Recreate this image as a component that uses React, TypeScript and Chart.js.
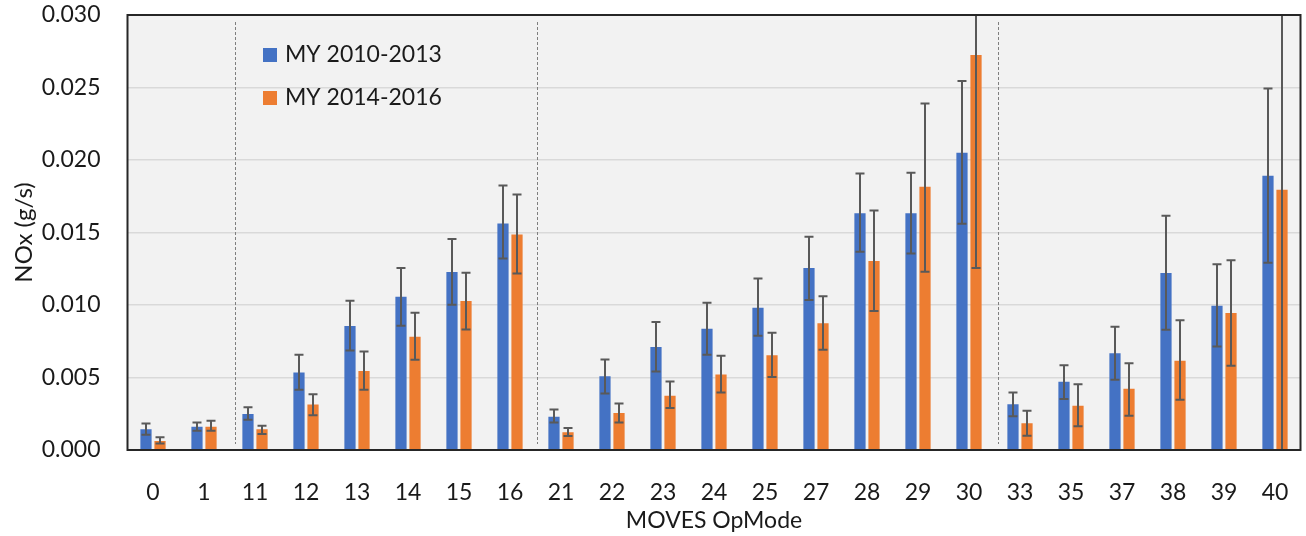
import React, { useEffect, useRef } from 'react';
import { Chart, registerables } from 'chart.js';

Chart.register(...registerables);

const categories = ['0', '1', '11', '12', '13', '14', '15', '16', '21', '22', '23', '24', '25', '27', '28', '29', '30', '33', '35', '37', '38', '39', '40'];

const seriesLabels = ['MY 2010-2013', 'MY 2014-2016'];

// values in mg/s (converted to g/s below)
const blueValues = [1.43, 1.61, 2.49, 5.34, 8.55, 10.57, 12.28, 15.62, 2.30, 5.09, 7.10, 8.36, 9.81, 12.56, 16.33, 16.33, 20.5, 3.16, 4.70, 6.68, 12.21, 9.95, 18.91];
const blueLow = [1.06, 1.33, 2.09, 4.15, 6.86, 8.57, 10.02, 13.2, 1.89, 3.89, 5.41, 6.57, 7.88, 10.34, 13.68, 13.55, 15.6, 2.33, 3.52, 4.84, 8.29, 7.14, 12.92];
const blueHigh = [1.82, 1.89, 2.95, 6.57, 10.30, 12.56, 14.56, 18.24, 2.79, 6.24, 8.83, 10.16, 11.82, 14.70, 19.07, 19.12, 25.45, 3.96, 5.85, 8.50, 16.15, 12.81, 24.93];

const orangeValues = [0.62, 1.61, 1.43, 3.13, 5.44, 7.81, 10.28, 14.86, 1.22, 2.56, 3.75, 5.20, 6.54, 8.75, 13.04, 18.15, 27.25, 1.84, 3.06, 4.22, 6.15, 9.45, 17.95];
const orangeLow = [0.44, 1.33, 1.11, 2.40, 4.15, 6.22, 8.31, 12.18, 0.97, 1.89, 2.90, 3.96, 5.04, 6.91, 9.58, 12.30, 12.56, 0.99, 1.64, 2.37, 3.46, 5.81, -4.0];
const orangeHigh = [0.88, 2.02, 1.68, 3.85, 6.79, 9.47, 12.23, 17.62, 1.52, 3.20, 4.72, 6.50, 8.09, 10.6, 16.52, 23.9, 41.9, 2.70, 4.54, 5.99, 8.94, 13.08, 40.0];

const yTicks = [0, 0.005, 0.01, 0.015, 0.02, 0.025, 0.03];

// separators between OpMode groups (category index positions)
const separators = [1.6, 7.52, 16.57];

const BLUE = '#4472C4';
const ORANGE = '#ED7D31';
const TEXT = '#1A1A1A';
const FONT = 'Lato';

const toG = (arr: number[]) => arr.map((v) => v / 1000);

const errorLows = [toG(blueLow), toG(orangeLow)];
const errorHighs = [toG(blueHigh), toG(orangeHigh)];

const decorPlugin = {
  id: 'decor',
  beforeDraw(chart: any) {
    const { ctx, chartArea: a } = chart;
    ctx.save();
    ctx.fillStyle = '#F2F2F2';
    ctx.fillRect(a.left, a.top, a.right - a.left, a.bottom - a.top);
    ctx.restore();
  },
  afterDatasetsDraw(chart: any) {
    const { ctx, chartArea: a, scales } = chart;
    const xs = scales.x;
    const ys = scales.y;
    ctx.save();
    // dashed separators
    ctx.strokeStyle = '#7F7F7F';
    ctx.lineWidth = 1;
    ctx.setLineDash([3, 2]);
    separators.forEach((s) => {
      const x = Math.round(xs.getPixelForValue(s)) + 0.5;
      ctx.beginPath();
      ctx.moveTo(x, a.top + 7);
      ctx.lineTo(x, a.bottom - 6);
      ctx.stroke();
    });
    ctx.setLineDash([]);

    // error bars
    ctx.beginPath();
    ctx.rect(a.left, a.top, a.right - a.left, a.bottom - a.top);
    ctx.clip();
    ctx.strokeStyle = '#595959';
    ctx.lineWidth = 2;
    [0, 1].forEach((di) => {
      const meta = chart.getDatasetMeta(di);
      meta.data.forEach((bar: any, j: number) => {
        const x = bar.x;
        const yl = ys.getPixelForValue(errorLows[di][j]);
        const yh = ys.getPixelForValue(errorHighs[di][j]);
        ctx.beginPath();
        ctx.moveTo(x, yl);
        ctx.lineTo(x, yh);
        ctx.moveTo(x - 4.5, yl);
        ctx.lineTo(x + 4.5, yl);
        ctx.moveTo(x - 4.5, yh);
        ctx.lineTo(x + 4.5, yh);
        ctx.stroke();
      });
    });
    ctx.restore();

    ctx.save();
    // plot border
    ctx.strokeStyle = '#262626';
    ctx.lineWidth = 2;
    ctx.strokeRect(a.left, a.top, a.right - a.left, a.bottom - a.top);

    // legend
    const colors = [BLUE, ORANGE];
    ctx.font = `23px ${FONT}`;
    ctx.textBaseline = 'middle';
    ctx.textAlign = 'left';
    seriesLabels.forEach((lab, i) => {
      const cy = a.top + 40 + i * 43;
      ctx.fillStyle = colors[i];
      ctx.fillRect(a.left + 135.5, cy - 7, 14, 14);
      ctx.fillStyle = TEXT;
      ctx.fillText(lab, a.left + 157.5, cy);
    });
    ctx.restore();
  },
};

export default function App() {
  const ref = useRef<HTMLCanvasElement | null>(null);

  useEffect(() => {
    document.body.style.margin = '0';
    const canvas = ref.current;
    if (!canvas) return;
    const chart = new Chart(canvas, {
      type: 'bar',
      data: {
        labels: categories,
        datasets: [
          {
            label: seriesLabels[0],
            data: toG(blueValues),
            backgroundColor: BLUE,
            borderWidth: 0,
            barPercentage: 0.8,
            categoryPercentage: 0.55,
          },
          {
            label: seriesLabels[1],
            data: toG(orangeValues),
            backgroundColor: ORANGE,
            borderWidth: 0,
            barPercentage: 0.8,
            categoryPercentage: 0.55,
          },
        ],
      },
      options: {
        responsive: false,
        animation: false,
        devicePixelRatio: 1,
        layout: { padding: { left: 0, right: 5.5, top: 15, bottom: 0 } },
        plugins: {
          legend: { display: false },
          tooltip: { enabled: false },
        },
        scales: {
          x: {
            grid: { display: false },
            border: { display: false },
            ticks: {
              color: TEXT,
              font: { family: FONT, size: 23 },
              padding: 21,
              maxRotation: 0,
              autoSkip: false,
            },
            title: {
              display: true,
              text: 'MOVES OpMode',
              color: TEXT,
              font: { family: FONT, size: 23 },
              padding: { top: 0, bottom: 2 },
            },
            afterFit: (scale: any) => {
              scale.height = 86;
              scale.paddingLeft = 0;
              scale.paddingRight = 0;
            },
          },
          y: {
            min: 0,
            max: 0.03,
            afterBuildTicks: (scale: any) => {
              scale.ticks = yTicks.map((v) => ({ value: v }));
            },
            grid: { color: '#D9D9D9', lineWidth: 1.5, drawTicks: false },
            border: { display: false },
            ticks: {
              color: TEXT,
              font: { family: FONT, size: 23 },
              padding: 27,
              callback: (v: any) => Number(v).toFixed(3),
            },
            title: {
              display: true,
              text: 'NOx (g/s)',
              color: TEXT,
              font: { family: FONT, size: 24 },
              padding: { top: 10, bottom: 0 },
            },
            afterFit: (scale: any) => {
              scale.width = 127.5;
              scale.paddingTop = 0;
              scale.paddingBottom = 0;
            },
          },
        },
      },
      plugins: [decorPlugin],
    });
    return () => chart.destroy();
  }, []);

  return <canvas ref={ref} width={1306} height={536} style={{ display: 'block' }} />;
}
